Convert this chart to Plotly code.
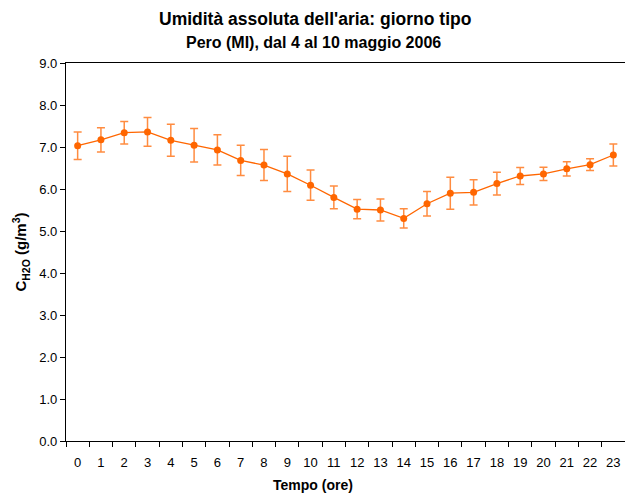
import plotly.graph_objects as go

hours = [str(h) for h in range(24)]
humidity = [7.03, 7.17, 7.34, 7.36, 7.16, 7.04, 6.93, 6.68, 6.57, 6.36, 6.09, 5.80,
            5.52, 5.50, 5.30, 5.65, 5.90, 5.92, 6.13, 6.31, 6.36, 6.48, 6.58, 6.81]
errors = [0.33, 0.29, 0.27, 0.34, 0.38, 0.40, 0.36, 0.36, 0.37, 0.42, 0.36, 0.27,
          0.23, 0.26, 0.23, 0.29, 0.38, 0.30, 0.27, 0.20, 0.16, 0.17, 0.14, 0.26]

title_line1 = "Umidità assoluta dell'aria: giorno tipo"
title_line2 = "Pero (MI), dal 4 al 10 maggio 2006"
x_title = "Tempo (ore)"
y_title = "C<sub>H2O</sub> (g/m<sup>3</sup>)"

orange = "#FF6600"
font_family = "Liberation Sans, Arial, sans-serif"

# page body has an 8px default margin; size the figure to fit the window
W, H = 625, 486
ML, MR, MT, MB = 58, 8, 55, 53

fig = go.Figure(go.Scatter(
    x=hours, y=humidity, mode="lines+markers",
    line=dict(color=orange, width=1.3),
    marker=dict(color=orange, size=7),
    error_y=dict(type="data", array=errors, visible=True,
                 color="rgba(255,102,0,0.75)", thickness=1.5, width=4),
    showlegend=False,
))

plot_h = H - MT - MB
plot_w = W - ML - MR

def paper_y(px_from_top):
    return 1 + (MT - px_from_top) / plot_h

def paper_x(px_from_left):
    return (px_from_left - ML) / plot_w

fig.update_layout(
    width=W, height=H,
    margin=dict(l=ML, r=MR, t=MT, b=MB, autoexpand=False),
    paper_bgcolor="white", plot_bgcolor="white",
    font=dict(family=font_family, size=13, color="black"),
    annotations=[
        dict(text="<b>" + title_line1 + "</b>", x=paper_x(307), xref="paper", xanchor="center",
             y=paper_y(11), yref="paper", yanchor="middle", showarrow=False, font=dict(size=17.5)),
        dict(text="<b>" + title_line2 + "</b>", x=paper_x(305), xref="paper", xanchor="center",
             y=paper_y(35), yref="paper", yanchor="middle", showarrow=False, font=dict(size=16)),
        dict(text="<b>" + x_title + "</b>", x=paper_x(305), xref="paper", xanchor="center",
             y=paper_y(477), yref="paper", yanchor="middle", showarrow=False, font=dict(size=14)),
    ],
    xaxis=dict(
        type="category", range=[-0.5, 23.5], showline=True, linecolor="black", linewidth=1.3,
        mirror=True, ticks="outside", tickson="boundaries", ticklen=5,
        tickcolor="black", showgrid=False, tickangle=0, automargin=False,
        ticklabelstandoff=9,
    ),
    yaxis=dict(
        range=[0, 9], dtick=1, tickformat=".1f", showline=True, linecolor="black",
        linewidth=1.3, mirror=True, ticks="outside", ticklen=5, tickcolor="black",
        showgrid=False, zeroline=False, automargin=False,
        title=dict(text="<b>" + y_title + "</b>", font=dict(size=15), standoff=8),
    ),
)

fig.write_html("out.html")
